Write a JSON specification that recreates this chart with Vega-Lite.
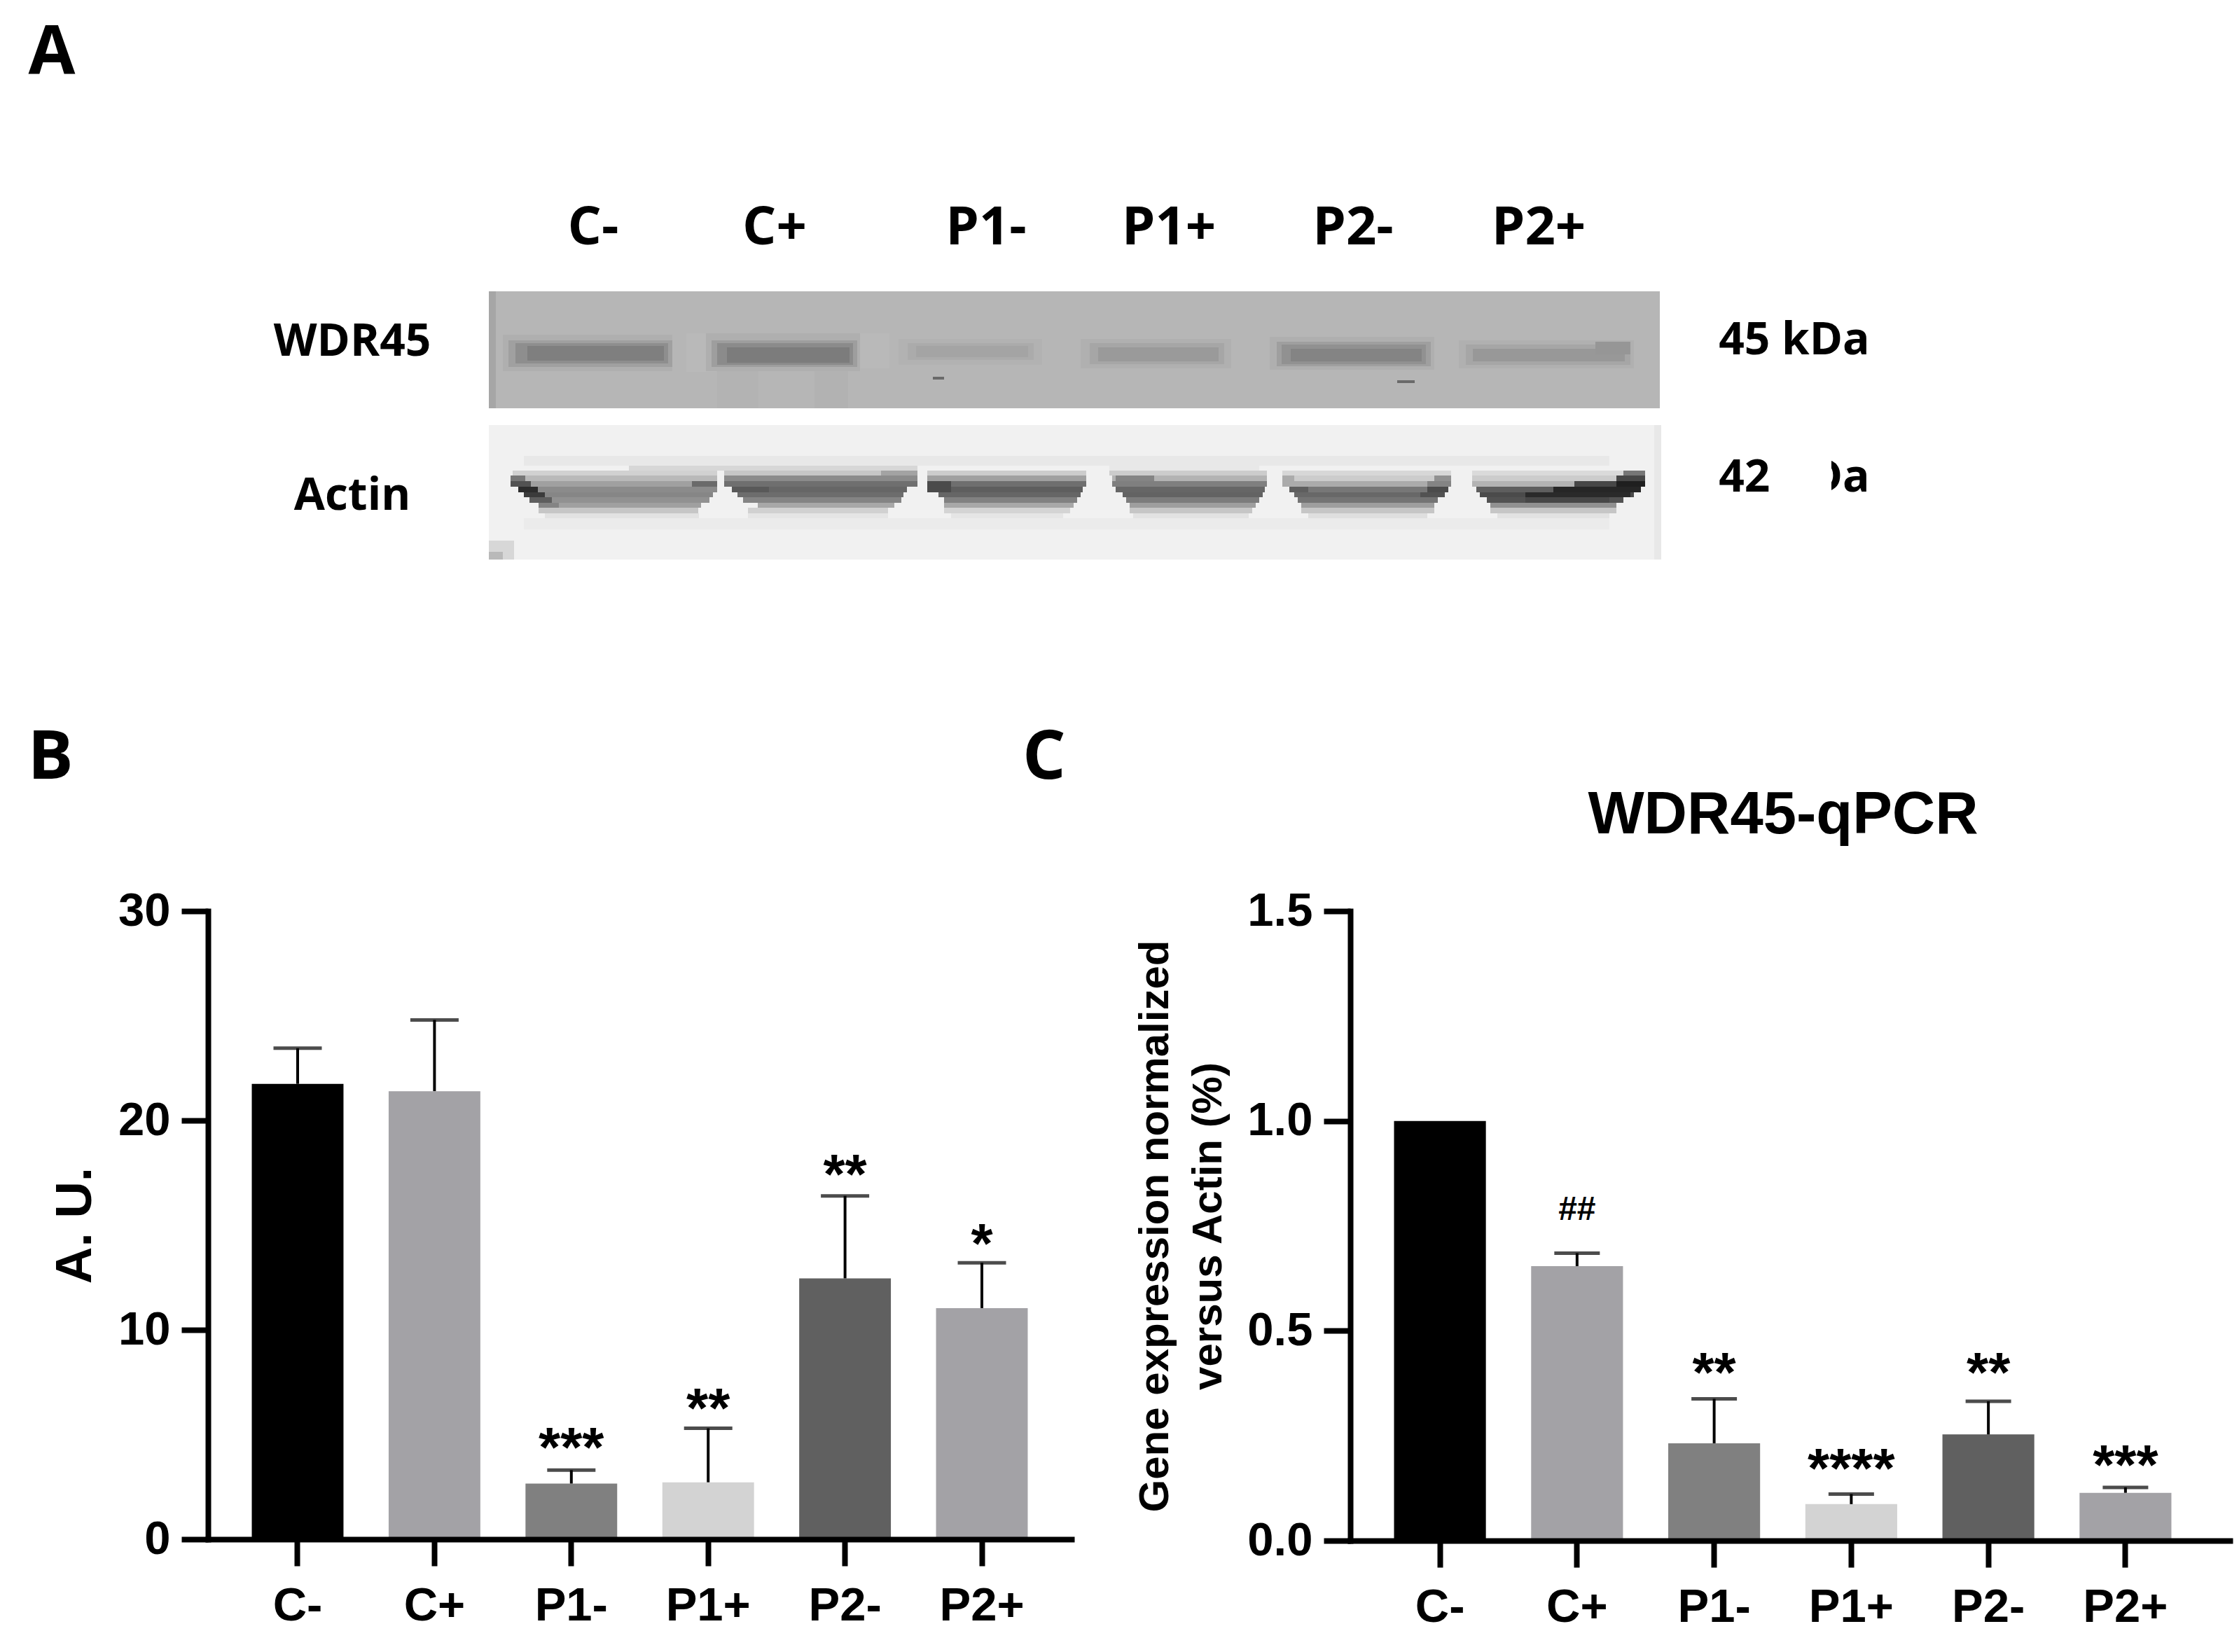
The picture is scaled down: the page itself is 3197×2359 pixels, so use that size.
{
"$schema":"https://vega.github.io/schema/vega-lite/v6.json",
"background":"white",
"padding":{"left":39,"top":0,"right":14,"bottom":10},
"autosize":{"type":"pad"},
"config":{"view":{"stroke":null},"font":"Liberation Sans","text":{"color":"black"}},
"datasets":{
"quant_b":[
{"group":"C-","mean":21.75,"err":23.45,"label":null,"label_y":null},
{"group":"C+","mean":21.4,"err":24.8,"label":null,"label_y":null},
{"group":"P1-","mean":2.66,"err":3.3,"label":"***","label_y":3.2},
{"group":"P1+","mean":2.72,"err":5.3,"label":"**","label_y":5.08},
{"group":"P2-","mean":12.46,"err":16.4,"label":"**","label_y":16.26},
{"group":"P2+","mean":11.04,"err":13.2,"label":"*","label_y":12.95}],
"quant_c":[
{"group":"C-","mean":1.0,"err":null,"label":null,"label_y":null},
{"group":"C+","mean":0.654,"err":0.685,"label":"##","label_y":0.765},
{"group":"P1-","mean":0.232,"err":0.338,"label":"**","label_y":0.342},
{"group":"P1+","mean":0.087,"err":0.111,"label":"****","label_y":0.114},
{"group":"P2-","mean":0.253,"err":0.332,"label":"**","label_y":0.342},
{"group":"P2+","mean":0.114,"err":0.127,"label":"***","label_y":0.121}],
"blot":[
{"pos":0,"pos2":1672,"mig":0,"mig2":167,"density":0.26},
{"pos":0,"pos2":10,"mig":0,"mig2":167,"density":0.32},
{"pos":465,"pos2":513,"mig":106,"mig2":167,"density":0.275},
{"pos":326,"pos2":385,"mig":106,"mig2":167,"density":0.27},
{"pos":282,"pos2":325,"mig":60,"mig2":115,"density":0.25},
{"pos":522,"pos2":572,"mig":60,"mig2":110,"density":0.25},
{"pos":20,"pos2":262,"mig":62,"mig2":114,"density":0.285},
{"pos":28,"pos2":262,"mig":70,"mig2":108,"density":0.34},
{"pos":38,"pos2":256,"mig":74,"mig2":103,"density":0.41},
{"pos":55,"pos2":250,"mig":78,"mig2":99,"density":0.47},
{"pos":310,"pos2":530,"mig":60,"mig2":114,"density":0.285},
{"pos":318,"pos2":526,"mig":70,"mig2":108,"density":0.35},
{"pos":326,"pos2":520,"mig":74,"mig2":105,"density":0.42},
{"pos":340,"pos2":515,"mig":80,"mig2":102,"density":0.48},
{"pos":585,"pos2":790,"mig":68,"mig2":105,"density":0.275},
{"pos":598,"pos2":778,"mig":74,"mig2":98,"density":0.3},
{"pos":610,"pos2":770,"mig":78,"mig2":94,"density":0.325},
{"pos":845,"pos2":1060,"mig":68,"mig2":110,"density":0.28},
{"pos":858,"pos2":1050,"mig":74,"mig2":104,"density":0.32},
{"pos":870,"pos2":1042,"mig":80,"mig2":100,"density":0.365},
{"pos":1115,"pos2":1350,"mig":65,"mig2":112,"density":0.285},
{"pos":1125,"pos2":1345,"mig":72,"mig2":107,"density":0.345},
{"pos":1132,"pos2":1338,"mig":76,"mig2":104,"density":0.4},
{"pos":1145,"pos2":1332,"mig":82,"mig2":100,"density":0.45},
{"pos":1385,"pos2":1635,"mig":70,"mig2":110,"density":0.28},
{"pos":1395,"pos2":1630,"mig":76,"mig2":105,"density":0.32},
{"pos":1405,"pos2":1622,"mig":82,"mig2":100,"density":0.37},
{"pos":1580,"pos2":1630,"mig":72,"mig2":90,"density":0.38},
{"pos":634,"pos2":650,"mig":122,"mig2":126,"density":0.55},
{"pos":1297,"pos2":1322,"mig":127,"mig2":131,"density":0.55},
{"pos":0,"pos2":1674,"mig":191,"mig2":383,"density":0.05},
{"pos":1664,"pos2":1674,"mig":191,"mig2":383,"density":0.08},
{"pos":0,"pos2":36,"mig":356,"mig2":383,"density":0.14},
{"pos":0,"pos2":20,"mig":372,"mig2":383,"density":0.25},
{"pos":50,"pos2":1600,"mig":235,"mig2":249,"density":0.08},
{"pos":50,"pos2":1600,"mig":324,"mig2":340,"density":0.07},
{"pos":34,"pos2":326,"mig":256,"mig2":263,"density":0.16},
{"pos":31,"pos2":326,"mig":263,"mig2":271,"density":0.25},
{"pos":31,"pos2":326,"mig":271,"mig2":279,"density":0.34},
{"pos":42,"pos2":326,"mig":279,"mig2":287,"density":0.42},
{"pos":50,"pos2":320,"mig":287,"mig2":294,"density":0.44},
{"pos":58,"pos2":315,"mig":294,"mig2":302,"density":0.4},
{"pos":71,"pos2":303,"mig":302,"mig2":309,"density":0.34},
{"pos":71,"pos2":299,"mig":309,"mig2":317,"density":0.2},
{"pos":80,"pos2":300,"mig":317,"mig2":324,"density":0.1},
{"pos":31,"pos2":52,"mig":263,"mig2":271,"density":0.5},
{"pos":31,"pos2":60,"mig":271,"mig2":279,"density":0.65},
{"pos":42,"pos2":70,"mig":279,"mig2":287,"density":0.82},
{"pos":50,"pos2":80,"mig":287,"mig2":294,"density":0.75},
{"pos":58,"pos2":90,"mig":294,"mig2":302,"density":0.6},
{"pos":71,"pos2":100,"mig":302,"mig2":309,"density":0.45},
{"pos":290,"pos2":326,"mig":271,"mig2":279,"density":0.55},
{"pos":200,"pos2":612,"mig":249,"mig2":256,"density":0.14},
{"pos":336,"pos2":612,"mig":256,"mig2":263,"density":0.2},
{"pos":560,"pos2":612,"mig":256,"mig2":263,"density":0.33},
{"pos":336,"pos2":612,"mig":263,"mig2":271,"density":0.42},
{"pos":336,"pos2":612,"mig":271,"mig2":279,"density":0.53},
{"pos":347,"pos2":597,"mig":279,"mig2":287,"density":0.57},
{"pos":347,"pos2":400,"mig":279,"mig2":287,"density":0.62},
{"pos":355,"pos2":592,"mig":287,"mig2":294,"density":0.54},
{"pos":363,"pos2":589,"mig":294,"mig2":302,"density":0.45},
{"pos":384,"pos2":579,"mig":302,"mig2":309,"density":0.31},
{"pos":370,"pos2":570,"mig":309,"mig2":317,"density":0.16},
{"pos":370,"pos2":570,"mig":317,"mig2":324,"density":0.09},
{"pos":626,"pos2":853,"mig":256,"mig2":263,"density":0.18},
{"pos":626,"pos2":853,"mig":263,"mig2":271,"density":0.34},
{"pos":626,"pos2":853,"mig":271,"mig2":279,"density":0.53},
{"pos":635,"pos2":848,"mig":279,"mig2":287,"density":0.6},
{"pos":626,"pos2":660,"mig":271,"mig2":287,"density":0.68},
{"pos":642,"pos2":845,"mig":287,"mig2":294,"density":0.57},
{"pos":650,"pos2":840,"mig":294,"mig2":302,"density":0.46},
{"pos":650,"pos2":835,"mig":302,"mig2":309,"density":0.31},
{"pos":650,"pos2":830,"mig":309,"mig2":317,"density":0.15},
{"pos":660,"pos2":820,"mig":317,"mig2":324,"density":0.09},
{"pos":886,"pos2":1100,"mig":249,"mig2":256,"density":0.08},
{"pos":886,"pos2":1111,"mig":256,"mig2":263,"density":0.18},
{"pos":890,"pos2":1111,"mig":263,"mig2":271,"density":0.27},
{"pos":895,"pos2":950,"mig":263,"mig2":271,"density":0.45},
{"pos":890,"pos2":1111,"mig":271,"mig2":279,"density":0.47},
{"pos":895,"pos2":1108,"mig":279,"mig2":287,"density":0.57},
{"pos":905,"pos2":1105,"mig":287,"mig2":294,"density":0.58},
{"pos":910,"pos2":1100,"mig":294,"mig2":302,"density":0.48},
{"pos":915,"pos2":1095,"mig":302,"mig2":309,"density":0.35},
{"pos":915,"pos2":1090,"mig":309,"mig2":317,"density":0.2},
{"pos":920,"pos2":1085,"mig":317,"mig2":324,"density":0.1},
{"pos":1133,"pos2":1374,"mig":256,"mig2":263,"density":0.14},
{"pos":1133,"pos2":1374,"mig":263,"mig2":271,"density":0.18},
{"pos":1133,"pos2":1150,"mig":263,"mig2":271,"density":0.3},
{"pos":1350,"pos2":1374,"mig":263,"mig2":271,"density":0.4},
{"pos":1133,"pos2":1374,"mig":271,"mig2":279,"density":0.3},
{"pos":1340,"pos2":1374,"mig":271,"mig2":279,"density":0.45},
{"pos":1143,"pos2":1370,"mig":279,"mig2":287,"density":0.5},
{"pos":1143,"pos2":1170,"mig":279,"mig2":287,"density":0.6},
{"pos":1340,"pos2":1370,"mig":279,"mig2":287,"density":0.68},
{"pos":1150,"pos2":1365,"mig":287,"mig2":294,"density":0.56},
{"pos":1330,"pos2":1365,"mig":287,"mig2":294,"density":0.65},
{"pos":1155,"pos2":1355,"mig":294,"mig2":302,"density":0.51},
{"pos":1160,"pos2":1350,"mig":302,"mig2":309,"density":0.35},
{"pos":1160,"pos2":1350,"mig":309,"mig2":317,"density":0.2},
{"pos":1170,"pos2":1340,"mig":317,"mig2":324,"density":0.11},
{"pos":1404,"pos2":1640,"mig":256,"mig2":263,"density":0.13},
{"pos":1404,"pos2":1650,"mig":263,"mig2":271,"density":0.18},
{"pos":1404,"pos2":1650,"mig":271,"mig2":279,"density":0.27},
{"pos":1410,"pos2":1645,"mig":279,"mig2":287,"density":0.6},
{"pos":1415,"pos2":1635,"mig":287,"mig2":294,"density":0.68},
{"pos":1425,"pos2":1620,"mig":294,"mig2":302,"density":0.65},
{"pos":1430,"pos2":1610,"mig":302,"mig2":309,"density":0.4},
{"pos":1430,"pos2":1610,"mig":309,"mig2":317,"density":0.2},
{"pos":1440,"pos2":1600,"mig":317,"mig2":324,"density":0.1},
{"pos":1520,"pos2":1645,"mig":279,"mig2":287,"density":0.85},
{"pos":1550,"pos2":1651,"mig":271,"mig2":279,"density":0.7},
{"pos":1610,"pos2":1651,"mig":271,"mig2":279,"density":0.88},
{"pos":1610,"pos2":1651,"mig":263,"mig2":271,"density":0.7},
{"pos":1620,"pos2":1651,"mig":256,"mig2":263,"density":0.5},
{"pos":1480,"pos2":1630,"mig":287,"mig2":294,"density":0.83},
{"pos":1480,"pos2":1600,"mig":294,"mig2":302,"density":0.7}],
"lane_labels":[
{"pos":149,"mig":-90,"label":"C-"},
{"pos":408,"mig":-90,"label":"C+"},
{"pos":710,"mig":-90,"label":"P1-"},
{"pos":971,"mig":-90,"label":"P1+"},
{"pos":1234,"mig":-90,"label":"P2-"},
{"pos":1499,"mig":-90,"label":"P2+"}],
"blot_labels":[
{"pos":-195,"mig":73,"label":"WDR45"},
{"pos":-195,"mig":293,"label":"Actin"},
{"pos":1864,"mig":71,"label":"45 kDa"},
{"pos":1864,"mig":267,"label":"42 kDa"}],
"letters":[
{"pos":-624,"mig":-339,"label":"A"},
{"pos":-626,"mig":667,"label":"B"},
{"pos":793,"mig":667,"label":"C"}],
"mask":[{"pos":1835,"pos2":1917,"mig":226,"mig2":298}]
},
"bounds":"flush",
"spacing":504,
"vconcat":[
{"width":2887,"height":797,
"layer":[
{"data":{"name":"blot"},"mark":{"type":"rect","strokeWidth":0},
"encoding":{
"x":{"field":"pos","type":"quantitative","scale":{"domain":[-401,2486],"nice":false,"zero":false},"axis":null},
"x2":{"field":"pos2"},
"y":{"field":"mig","type":"quantitative","scale":{"domain":[-416,381],"nice":false,"zero":false,"reverse":true},"axis":null},
"y2":{"field":"mig2"},
"color":{"field":"density","type":"quantitative","scale":{"domain":[0,1],"range":["#ffffff","#000000"]},"legend":null}}},
{"data":{"name":"lane_labels"},"mark":{"type":"text","font":"Open Sans","fontWeight":"bold","fontSize":76,"align":"center","baseline":"middle","color":"black"},
"encoding":{"x":{"field":"pos","type":"quantitative"},"y":{"field":"mig","type":"quantitative"},"text":{"field":"label"}}},
{"data":{"name":"blot_labels"},"mark":{"type":"text","font":"Open Sans","fontWeight":"bold","fontSize":64,"align":"center","baseline":"middle","color":"black"},
"encoding":{"x":{"field":"pos","type":"quantitative"},"y":{"field":"mig","type":"quantitative"},"text":{"field":"label"}}},
{"data":{"name":"mask"},"mark":{"type":"rect","color":"white","strokeWidth":0},
"encoding":{"x":{"field":"pos","type":"quantitative"},"x2":{"field":"pos2"},"y":{"field":"mig","type":"quantitative"},"y2":{"field":"mig2"}}},
{"data":{"name":"letters"},"mark":{"type":"text","font":"Open Sans","fontWeight":"bold","fontSize":97,"align":"center","baseline":"middle","color":"black"},
"encoding":{"x":{"field":"pos","type":"quantitative"},"y":{"field":"mig","type":"quantitative"},"text":{"field":"label"}}}
]},
{"bounds":"flush","spacing":398,
"hconcat":[
{"width":1233,"height":897,
"data":{"name":"quant_b"},
"encoding":{
"x":{"field":"group","type":"nominal","title":null,"scale":{"domain":["C-","C+","P1-","P1+","P2-","P2+"],"paddingInner":0.33,"paddingOuter":0.32},
"axis":{"labelAngle":0,"labelFont":"Liberation Sans","labelFontWeight":"bold","labelFontSize":67,"labelColor":"black","labelPadding":24,"tickSize":38,"tickWidth":8,"tickColor":"black","domainWidth":8,"domainColor":"black","domainCap":"square","zindex":1,"grid":false}}},
"layer":[
{"mark":{"type":"bar","strokeWidth":0},
"encoding":{"y":{"field":"mean","type":"quantitative","scale":{"domain":[0,30],"nice":false},
"axis":{"values":[0,10,20,30],"title":"A. U.","titleFont":"Liberation Sans","titleFontWeight":"bold","titleFontSize":73,"titleColor":"black","titlePadding":24,"labelFont":"Liberation Sans","labelFontWeight":"bold","labelFontSize":67,"labelColor":"black","labelPadding":16,"tickSize":38,"tickWidth":8,"tickColor":"black","domainWidth":8,"domainColor":"black","domainCap":"square","zindex":1,"grid":false}},
"color":{"field":"group","type":"nominal","scale":{"domain":["C-","C+","P1-","P1+","P2-","P2+"],"range":["#000000","#a3a2a6","#808080","#d3d3d3","#606060","#a3a2a6"]},"legend":null}}},
{"transform":[{"filter":"datum.err != null"}],"mark":{"type":"rule","color":"black","strokeWidth":4},
"encoding":{"y":{"field":"mean","type":"quantitative"},"y2":{"field":"err"}}},
{"transform":[{"filter":"datum.err != null"}],"mark":{"type":"tick","color":"black","size":69,"thickness":5,"orient":"horizontal"},
"encoding":{"y":{"field":"err","type":"quantitative"}}},
{"transform":[{"filter":"datum.label != null"}],"mark":{"type":"text","font":"Liberation Sans","fontWeight":"bold","fontSize":80,"align":"center","baseline":"alphabetic","color":"black","dy":-8},
"encoding":{"y":{"field":"label_y","type":"quantitative"},"text":{"field":"label"}}}
]},
{"width":1256,"height":899,
"title":{"text":"WDR45-qPCR","font":"Liberation Sans","fontWeight":"bold","fontSize":85,"color":"black","anchor":"middle","offset":59,"dx":-10},
"data":{"name":"quant_c"},
"encoding":{
"x":{"field":"group","type":"nominal","title":null,"scale":{"domain":["C-","C+","P1-","P1+","P2-","P2+"],"paddingInner":0.33,"paddingOuter":0.373,"align":0.428},
"axis":{"labelAngle":0,"labelFont":"Liberation Sans","labelFontWeight":"bold","labelFontSize":67,"labelColor":"black","labelPadding":24,"tickSize":38,"tickWidth":8,"tickColor":"black","domainWidth":8,"domainColor":"black","domainCap":"square","zindex":1,"grid":false}}},
"layer":[
{"mark":{"type":"bar","strokeWidth":0},
"encoding":{"y":{"field":"mean","type":"quantitative","scale":{"domain":[0,1.5],"nice":false},
"axis":{"values":[0,0.5,1,1.5],"format":".1f","title":["Gene expression normalized","versus Actin (%)"],"titleFont":"Liberation Sans","titleFontWeight":"bold","titleFontSize":60,"titleLineHeight":76,"titleColor":"black","titlePadding":24,"labelFont":"Liberation Sans","labelFontWeight":"bold","labelFontSize":67,"labelColor":"black","labelPadding":16,"tickSize":38,"tickWidth":8,"tickColor":"black","domainWidth":8,"domainColor":"black","domainCap":"square","zindex":1,"grid":false}},
"color":{"field":"group","type":"nominal","scale":{"domain":["C-","C+","P1-","P1+","P2-","P2+"],"range":["#000000","#a3a2a6","#808080","#d3d3d3","#606060","#a3a2a6"]},"legend":null}}},
{"transform":[{"filter":"datum.err != null"}],"mark":{"type":"rule","color":"black","strokeWidth":4},
"encoding":{"y":{"field":"mean","type":"quantitative"},"y2":{"field":"err"}}},
{"transform":[{"filter":"datum.err != null"}],"mark":{"type":"tick","color":"black","size":65,"thickness":5,"orient":"horizontal"},
"encoding":{"y":{"field":"err","type":"quantitative"}}},
{"transform":[{"filter":"datum.label != null && datum.label != '##'"}],"mark":{"type":"text","font":"Liberation Sans","fontWeight":"bold","fontSize":80,"align":"center","baseline":"alphabetic","color":"black","dy":-8},
"encoding":{"y":{"field":"label_y","type":"quantitative"},"text":{"field":"label"}}},
{"transform":[{"filter":"datum.label == '##'"}],"mark":{"type":"text","font":"Liberation Sans","fontWeight":"bold","fontSize":48,"align":"center","baseline":"alphabetic","color":"black"},
"encoding":{"y":{"field":"label_y","type":"quantitative"},"text":{"field":"label"}}}
]}
]}
]
}
